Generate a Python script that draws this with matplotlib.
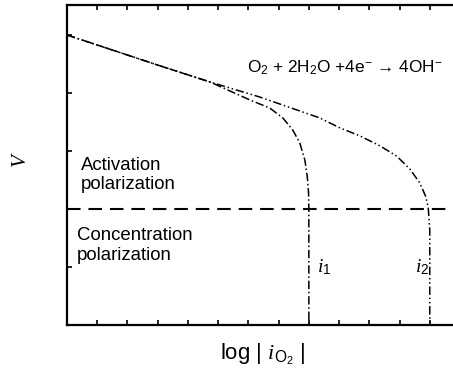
import matplotlib
matplotlib.use("Agg")
import matplotlib.pyplot as plt

plt.rcParams['font.family'] = ['Liberation Sans', 'DejaVu Sans']
plt.rcParams['mathtext.fontset'] = 'custom'
plt.rcParams['mathtext.rm'] = 'Liberation Sans'
plt.rcParams['mathtext.it'] = 'Liberation Serif:italic'
plt.rcParams['mathtext.sf'] = 'Liberation Sans'

# polarization curves, log|i| vs V (arbitrary units)
x1 = [0, 3.07, 4.73, 6.05, 6.71, 7.14, 7.47, 7.70, 7.87, 7.95, 7.99, 8.0, 8.0]
y1 = [5.0, 4.47, 4.19, 3.88, 3.74, 3.57, 3.36, 3.14, 2.84, 2.55, 2.28, 2.02, 0]

x2 = [0, 3.07, 4.73, 6.38, 8.36, 9.02, 9.69, 10.35, 10.91, 11.34, 11.67, 11.87, 11.95, 12.0, 12.0]
y2 = [5.0, 4.47, 4.19, 3.93, 3.57, 3.40, 3.26, 3.09, 2.91, 2.69, 2.45, 2.21, 2.02, 1.64, 0]

v_split = 2.0
i_lim = [8.0, 12.0]

fig = plt.figure(figsize=(4.53, 3.81), dpi=100)
ax = fig.add_axes([67/453, 56/381, 393/453, 320/381])

ax.plot(x1, y1, color='black', lw=1.1, linestyle=(0, (5.5, 1.8, 1, 1.8)))
ax.plot(x2, y2, color='black', lw=1.1, linestyle=(0, (5.5, 1.8, 1, 1.8, 1, 1.8)))
ax.axhline(v_split, color='black', lw=1.5, linestyle=(0, (6.5, 3.8)))

ax.set_xlim(0, 13)
ax.set_ylim(0, 320/58)
ax.set_xticks(range(0, 14))
ax.set_yticks(range(0, 6))
ax.tick_params(direction='in', length=3.5, width=1.2, top=True, bottom=True,
               left=True, right=False, labelbottom=False, labelleft=False)
for s in ax.spines.values():
    s.set_linewidth(1.6)

ax.text(0.46, 2.90, "Activation\npolarization", fontsize=13.4, ha='left', va='top',
        linespacing=1.2)
ax.text(0.33, 1.69, "Concentration\npolarization", fontsize=13.4, ha='left', va='top',
        linespacing=1.2)
ax.text(5.95, 4.36, "O$_2$ + 2H$_2$O +4e$^{-}$ → 4OH$^{-}$", fontsize=12.4,
        ha='left', va='baseline')
ax.text(i_lim[0] + 0.26, 0.91, "$i_1$", fontsize=14, ha='left', va='baseline')
ax.text(i_lim[1] - 0.5, 0.91, "$i_2$", fontsize=14, ha='left', va='baseline')

fig.text(21/453, 1 - 160/381, "$V$", rotation=90, fontsize=15, ha='center', va='center')
fig.text(263/453, 1 - 360/381, "log | $i_{\\mathrm{O}_2}$ |", fontsize=16,
         ha='center', va='baseline')

fig.savefig("out.png", dpi=100)
